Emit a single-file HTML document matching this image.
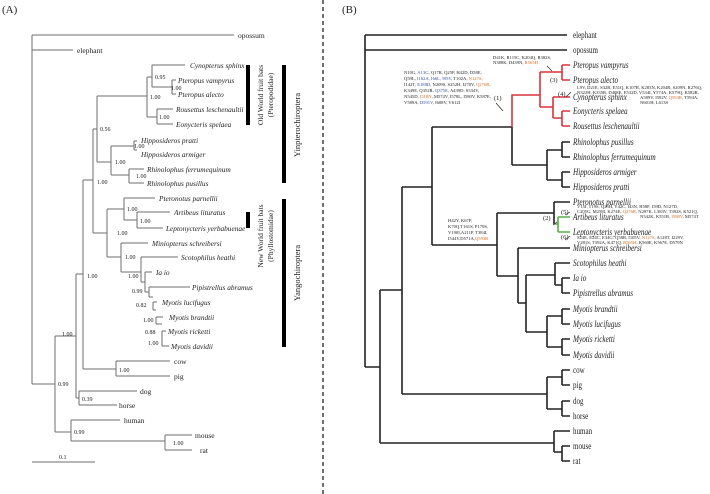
<!DOCTYPE html>
<html><head><meta charset="utf-8"><style>
body{margin:0;background:#fff}
svg{display:block}
.a{stroke:#6e6e6e;stroke-width:1;fill:none}
.b{stroke:#222;stroke-width:1.6;fill:none}
.r{stroke:#d9343a;stroke-width:1.6;fill:none}
.g{stroke:#5aae4a;stroke-width:1.6;fill:none}
text{font-family:"Liberation Serif",serif;fill:#222}
.sa{font-size:7.3px;font-style:italic}
.na{font-size:7.5px}
.bs{font-family:"Liberation Sans",sans-serif;font-size:6px;fill:#444}
.sb{font-size:9.5px;font-style:italic}
.nb{font-size:9.5px}
.t{font-size:4.6px}
.o{fill:#d2691e}
.bl{fill:#3050a0}
</style></head><body>
<svg width="710" height="494" viewBox="0 0 710 494" xmlns="http://www.w3.org/2000/svg">
<text x="2" y="13" font-size="11">(A)</text>
<text x="342" y="13" font-size="11">(B)</text>
<line x1="323" y1="0" x2="323" y2="494" stroke="#222" stroke-width="1.3" stroke-dasharray="4,3"/>

<!-- Panel A -->
<path class="a" d="M32,35H234 M32,35V384 M32,50H73 M32,384H55 M55,336V432 M55,432H71 M71,420V441 M71,420H120 M71,441H165 M165,435V450 M165,435H192 M165,450H192
M55,336H76 M76,274V398 M76,398H79 M79,391V405 M79,391H137 M79,405H117
M76,274H83 M83,180V369 M83,369H116 M116,361V376 M116,361H170 M116,376H170
M83,180H93 M93,129V233 M93,129H97 M97,96V162 M97,96H147 M147,77V117 M147,77H152 M152,65V87 M152,65H185 M152,87H172 M172,80V94 M172,80H176 M172,94H176
M147,117H157 M157,109V124 M157,109H173 M157,124H173
M97,162H111 M111,146V175 M111,146H134 M134,141V150 M134,141H137 M134,150H137 M111,175H129 M129,169V183 M129,169H144 M129,183H144
M93,233H107 M107,209V257 M107,209H124 M124,198V220 M124,198H155 M124,220H137 M137,212V228 M137,212H170 M137,228H163
M107,257H121 M121,243V272 M121,243H148 M121,272H141 M141,257V282 M141,257H178 M141,282H145 M145,272V292 M145,272H152 M145,292H149 M149,287V297 M149,287H190 M149,297H153 M153,302V310 M153,302H157 M153,310H156 M156,317V324 M156,317H163 M156,324H162 M162,331V346 M162,331H166 M162,346H169
M32,462H95"/>
<text x="238" y="38" class="na">opossum</text>
<text x="77" y="53" class="na">elephant</text>
<text x="190" y="68" class="sa">Cynopterus sphinx</text>
<text x="178" y="83" class="sa">Pteropus vampyrus</text>
<text x="178" y="97" class="sa">Pteropus alecto</text>
<text x="176" y="112" class="sa">Rousettus leschenaultii</text>
<text x="176" y="127" class="sa">Eonycteris spelaea</text>
<text x="141" y="143" class="sa">Hipposideros pratti</text>
<text x="141" y="157" class="sa">Hipposideros armiger</text>
<text x="147" y="172" class="sa">Rhinolophus ferrumequinum</text>
<text x="147" y="186" class="sa">Rhinolophus pusillus</text>
<text x="159" y="201" class="sa">Pteronotus parnellii</text>
<text x="174" y="215" class="sa">Artibeus lituratus</text>
<text x="166" y="231" class="sa">Leptonycteris yerbabuenae</text>
<text x="152" y="246" class="sa">Miniopterus schreibersi</text>
<text x="181" y="260" class="sa">Scotophilus heathi</text>
<text x="156" y="275" class="sa">Ia io</text>
<text x="192" y="290" class="sa">Pipistrellus abramus</text>
<text x="162" y="305" class="sa">Myotis lucifugus</text>
<text x="169" y="320" class="sa">Myotis brandtii</text>
<text x="168" y="334" class="sa">Myotis ricketti</text>
<text x="171" y="349" class="sa">Myotis davidii</text>
<text x="174" y="364" class="na">cow</text>
<text x="174" y="379" class="na">pig</text>
<text x="140" y="394" class="na">dog</text>
<text x="119" y="408" class="na">horse</text>
<text x="124" y="423" class="na">human</text>
<text x="195" y="438" class="na">mouse</text>
<text x="200" y="453" class="na">rat</text>
<g class="bs">
<text x="155" y="79">0.95</text><text x="171" y="90">1.00</text><text x="150" y="99">1.00</text><text x="159" y="119">1.00</text>
<text x="100" y="131">0.56</text><text x="134" y="148">1.00</text><text x="115" y="164">1.00</text><text x="136" y="178">1.00</text>
<text x="97" y="184">1.00</text><text x="127" y="211">1.00</text><text x="140" y="223">1.00</text><text x="117" y="235">1.00</text>
<text x="125" y="259">1.00</text><text x="128" y="278">1.00</text><text x="132" y="293">0.99</text><text x="136" y="307">0.82</text>
<text x="143" y="322">1.00</text><text x="145" y="334">0.88</text><text x="148" y="345">1.00</text>
<text x="87" y="278">1.00</text><text x="62" y="336">1.00</text><text x="119" y="372">1.00</text><text x="82" y="401">0.39</text>
<text x="58" y="386">0.99</text><text x="74" y="434">0.99</text><text x="173" y="445">1.00</text><text x="59" y="459">0.1</text>
</g>
<rect x="246" y="65" width="4" height="60" fill="#000"/>
<rect x="282" y="65" width="4" height="118" fill="#000"/>
<rect x="246" y="212" width="4" height="16" fill="#000"/>
<rect x="282" y="199" width="4" height="148" fill="#000"/>
<text transform="translate(263,95) rotate(-90)" text-anchor="middle" font-size="7.5">Old World fruit bats</text>
<text transform="translate(273,95) rotate(-90)" text-anchor="middle" font-size="7.5">(Pteropodidae)</text>
<text transform="translate(300,125) rotate(-90)" text-anchor="middle" font-size="8.5">Yinpterochiroptera</text>
<text transform="translate(263,236) rotate(-90)" text-anchor="middle" font-size="7.5">New World fruit bats</text>
<text transform="translate(273,236) rotate(-90)" text-anchor="middle" font-size="7.5">(Phyllostomidae)</text>
<text transform="translate(300,273) rotate(-90)" text-anchor="middle" font-size="8.5">Yangochiroptera</text>

<!-- Panel B -->
<path class="b" d="M365,35H567 M365,35V367 M365,50H567 M365,367H380 M380,290V443 M380,443H554 M554,431V452 M554,431H570 M554,452H562 M562,446V461 M562,446H570 M562,461H570
M380,290H402 M402,187V394 M402,394H547 M547,377V409 M547,377H562 M562,370V385 M562,370H570 M562,385H570 M547,409H562 M562,401V416 M562,401H570 M562,416H570
M402,187H432 M432,127V245 M432,127H512 M512,127V165 M512,165H547 M547,150V180 M547,150H562 M562,142V157 M562,142H570 M562,157H570 M547,180H562 M562,172V187 M562,172H570 M562,187H570
M432,245H497 M497,213V276 M497,213H554 M554,202V224 M554,202H570
M497,276H518 M518,248V303 M518,248H570 M518,303H526 M526,275V332 M526,275H555 M555,263V285 M555,263H570 M555,285H562 M562,278V293 M562,278H570 M562,293H570
M526,332H547 M547,316V347 M547,316H562 M562,309V324 M562,309H570 M562,324H570 M547,347H562 M562,339V355 M562,339H570 M562,355H570"/>
<path class="r" d="M512,127V95H540 M540,72V107 M540,72H562 M562,65V80 M562,65H570 M562,80H570 M540,107H553 M553,97V118 M553,97H570 M553,118H562 M562,111V126 M562,111H570 M562,126H570"/>
<path class="g" d="M554,224H558 M558,217V232 M558,217H570 M558,232H570"/>
<g class="sb" transform="translate(573,0) scale(0.76,1)">
<text x="0" y="68">Pteropus vampyrus</text>
<text x="0" y="83">Pteropus alecto</text>
<text x="0" y="100">Cynopterus sphinx</text>
<text x="0" y="114">Eonycteris spelaea</text>
<text x="0" y="129">Rousettus leschenaultii</text>
<text x="0" y="145">Rhinolophus pusillus</text>
<text x="0" y="160">Rhinolophus ferrumequinum</text>
<text x="0" y="175">Hipposideros armiger</text>
<text x="0" y="190">Hipposideros pratti</text>
<text x="0" y="205">Pteronotus parnellii</text>
<text x="0" y="220">Artibeus lituratus</text>
<text x="0" y="235">Leptonycteris yerbabuenae</text>
<text x="0" y="251">Miniopterus schreibersi</text>
<text x="0" y="266">Scotophilus heathi</text>
<text x="0" y="281">Ia io</text>
<text x="0" y="296">Pipistrellus abramus</text>
<text x="0" y="312">Myotis brandtii</text>
<text x="0" y="327">Myotis lucifugus</text>
<text x="0" y="342">Myotis ricketti</text>
<text x="0" y="358">Myotis davidii</text>
</g>
<g class="nb" transform="translate(573,0) scale(0.74,1)">
<text x="0" y="38">elephant</text><text x="0" y="53">opossum</text>
<text x="0" y="373">cow</text><text x="0" y="388">pig</text><text x="0" y="404">dog</text><text x="0" y="419">horse</text>
<text x="0" y="434">human</text><text x="0" y="449">mouse</text><text x="0" y="464">rat</text>
</g>
<g font-size="6.5">
<text x="494" y="100">(1)</text><text x="550" y="82">(3)</text><text x="558" y="96">(4)</text>
<text x="543" y="220">(2)</text><text x="561" y="214">(5)</text><text x="561" y="239">(6)</text>
</g>
<g class="t">
<text x="493" y="59">D41K, R115C, K204Q, R382S,</text>
<text x="493" y="64">N388K, D439N, <tspan class="o">R565H</tspan></text>
<text x="404" y="74">N10G, <tspan class="bl">A13G</tspan>, Q17R, Q25P, H42D, D58E,</text>
<text x="404" y="80">Q59L, <tspan class="bl">I162A, I66L, I95V</tspan>, T102A, <tspan class="o">N127S</tspan>,</text>
<text x="404" y="86">I142T, <tspan class="bl">E188D</tspan>, N209S, S252H, I270V, <tspan class="o">Q276R</tspan>,</text>
<text x="404" y="92">K349E, Q352R, <tspan class="bl">Q375E</tspan>, A439D, S534V,</text>
<text x="404" y="98">N545D, <tspan class="o">I518N</tspan>, M574V, I578L, I580V, K587E,</text>
<text x="404" y="104">V589A, <tspan class="bl">D591V</tspan>, I608V, V612I</text>
<text x="577" y="89">L9V, D21E, S32R, E51Q, K107R, K283N, K204R, S209N, R276Q,</text>
<text x="577" y="94">N322H, K335R, D408E, E532D, V534I, Y574A, K579Q, K582R,</text>
<text x="640" y="99">A589V, I592V, <tspan class="o">Q593R</tspan>, T594A,</text>
<text x="640" y="104">N601H, L613S</text>
<text x="577" y="208">V15I, T19S, Q25H, Y42C, I43N, H58F, I59D, N127D,</text>
<text x="577" y="213">C205G, M258I, K274E, <tspan class="o">Q276R</tspan>, N297K, L383V, T392S, K521Q,</text>
<text x="640" y="218">N542K, K551R, <tspan class="o">I588V</tspan>, M574T</text>
<text x="448" y="222">H42Y, K67P,</text>
<text x="448" y="228">K70Q,T161S, P179S,</text>
<text x="448" y="234">V190I,A211P, T384I,</text>
<text x="448" y="240">I544V,D571A,<tspan class="o">Q593R</tspan></text>
<text x="577" y="239">S24E, E24C, E34G, Q58R, I105V, <tspan class="o">N127S</tspan>, A128T, I229V,</text>
<text x="577" y="244">V281S, T392A, K471Q, <tspan class="o">R565H</tspan>, K560E, K567E, D579N</text>
</g>
<path d="M547,66L552,71 M496,103L503,111 M566,97L571,92 M557,222L553,225 M565,215L570,212 M565,240L570,236" stroke="#222" stroke-width="0.7" fill="none"/>
</svg>
</body></html>
